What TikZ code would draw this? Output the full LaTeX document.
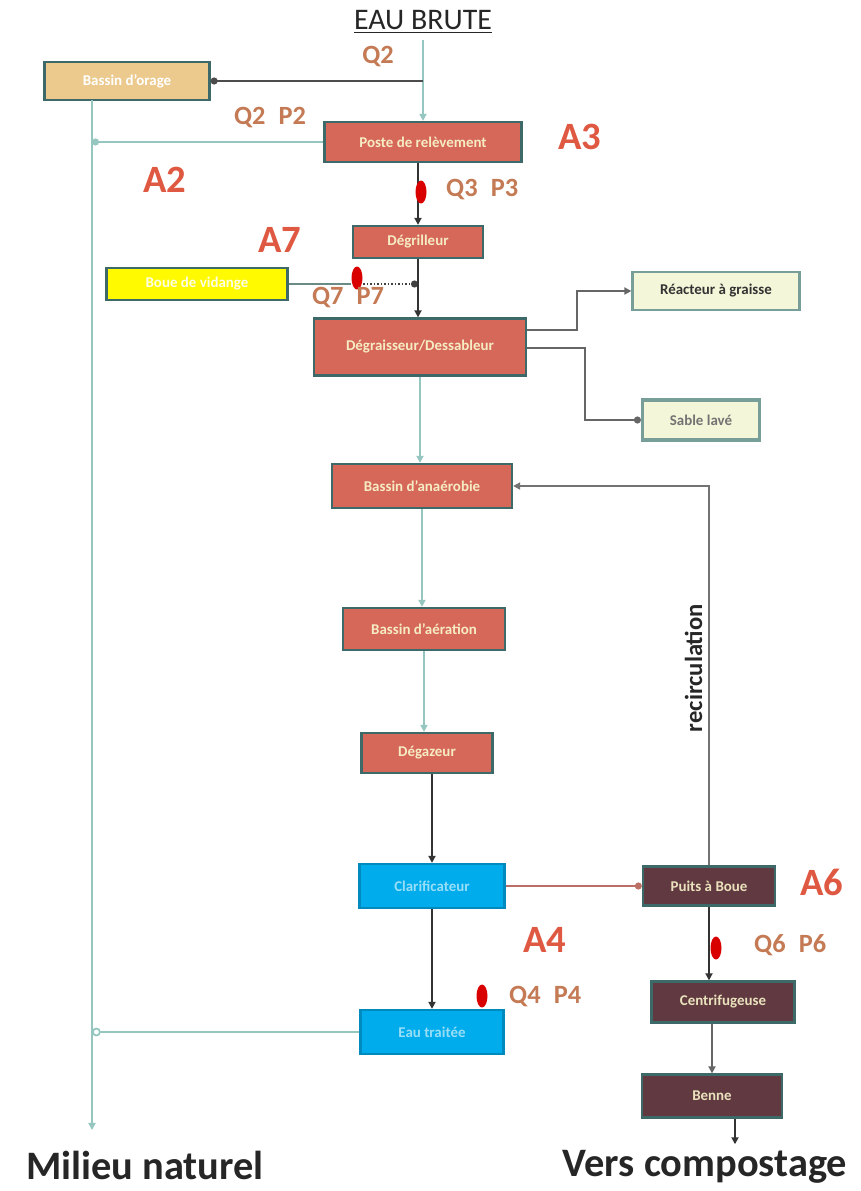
\documentclass[tikz,border=0pt]{standalone}
\usepackage{fontspec}
\setmainfont{Carlito}
\usetikzlibrary{arrows.meta,positioning,calc,shapes.geometric}
\usepackage{xcolor}
\definecolor{stepcolor}{RGB}{214,104,90}
\definecolor{bordercolor}{RGB}{62,105,105}
\definecolor{stormcolor}{RGB}{236,202,142}
\definecolor{sludgecolor}{RGB}{255,250,0}
\definecolor{clearcolor}{RGB}{0,172,236}
\definecolor{boueccolor}{RGB}{96,58,64}
\definecolor{palecolor}{RGB}{243,246,216}
\definecolor{linecolor}{RGB}{150,198,192}
\definecolor{qpcolor}{RGB}{196,122,84}
\definecolor{zonecolor}{RGB}{222,88,66}
\definecolor{creamcolor}{RGB}{246,236,196}

\begin{document}
\begin{tikzpicture}[
    x=0.02cm, y=-0.02cm,
    every node/.style={font=\fontsize{8.5}{9}\selectfont\bfseries},
    stepnode/.style={rectangle, draw=bordercolor, line width=1.3pt, fill=stepcolor, text=creamcolor, inner sep=1pt},
    stormnode/.style={stepnode, fill=stormcolor, text=white},
    sludgenode/.style={stepnode, fill=sludgecolor, text=white!90!yellow},
    clearnode/.style={stepnode, draw=clearcolor!80!black, fill=clearcolor, text=clearcolor!40!white},
    bouenode/.style={stepnode, fill=boueccolor, text=creamcolor!90!gray},
    outnode/.style={stepnode, line width=1.8pt, draw=linecolor!80!black, fill=palecolor, text=black!80},
    probe/.style={ellipse, fill=red!85!black, draw=none, minimum width=0.22cm, minimum height=0.46cm, inner sep=0pt},
    qplabel/.style={font=\fontsize{15}{16}\selectfont\bfseries, text=qpcolor},
    zonelabel/.style={font=\fontsize{22}{24}\selectfont\bfseries, text=zonecolor},
    endlabel/.style={font=\fontsize{23}{25}\selectfont\bfseries, text=black!85},
    arrow/.style={-{Triangle[length=4pt,width=4pt]}, line width=1pt, linecolor},
    dotarrow/.style={-{Circle[length=4pt]}, line width=1pt, linecolor},
    darkarrow/.style={-{Triangle[length=4pt,width=4pt]}, line width=1.3pt, black!80}
]

\useasboundingbox (0,0) rectangle (861,1191);

% Entry
\node[font=\fontsize{17}{18}\selectfont, text=black!85] (brute) at (423,22) {\underline{EAU BRUTE}};

% Treatment line
\node[stormnode, minimum width=3.3cm, minimum height=0.76cm] (orage) at (127,81) {Bassin d'orage};
\node[stepnode, minimum width=3.94cm, minimum height=0.8cm] (poste) at (423,142) {Poste de relèvement};
\node[stepnode, minimum width=2.6cm, minimum height=0.64cm] (degrilleur) at (418,242) {Dégrilleur};
\node[sludgenode, minimum width=3.62cm, minimum height=0.64cm] (vidange) at (197,284) {Boue de vidange};
\node[stepnode, minimum width=4.24cm, minimum height=1.14cm] (degraisseur) at (420,347) {Dégraisseur/Dessableur};
\node[outnode, line width=1.3pt, minimum width=3.34cm, minimum height=0.76cm] (reacteur) at (716,291) {Réacteur à graisse};
\node[outnode, minimum width=2.34cm, minimum height=0.8cm, text=black!55] (sable) at (701,420) {Sable lavé};
\node[stepnode, minimum width=3.6cm, minimum height=0.88cm] (anaerobie) at (422,486) {Bassin d'anaérobie};
\node[stepnode, minimum width=3.24cm, minimum height=0.84cm] (aeration) at (424,629) {Bassin d'aération};
\node[stepnode, minimum width=2.62cm, minimum height=0.8cm] (degazeur) at (427,753) {Dégazeur};
\node[clearnode, minimum width=2.9cm, minimum height=0.88cm] (clarif) at (432,886) {Clarificateur};
\node[clearnode, minimum width=2.86cm, minimum height=0.88cm] (eautraitee) at (432,1032) {Eau traitée};

% Sludge line
\node[bouenode, minimum width=2.64cm, minimum height=0.78cm] (puits) at (709,886) {Puits à Boue};
\node[bouenode, minimum width=2.86cm, minimum height=0.82cm] (centri) at (723,1002) {Centrifugeuse};
\node[bouenode, minimum width=2.8cm, minimum height=0.86cm] (benne) at (712,1096) {Benne};

% Outlets
\node[endlabel] (milieu) at (145,1165) {Milieu naturel};
\node[endlabel] (compost) at (705,1167) {Vers compostage};
\coordinate (leftbus) at (92,100);
\coordinate (leftend) at (92,1130);

% Connectors
\draw[arrow] (brute.south -| poste.north) -- (poste.north);
\draw[dotarrow, black!70] (brute.south |- orage.east) -- (orage.east);
\draw[arrow] (leftbus) -- (leftend);
\draw[dotarrow] (poste.west) -- (poste.west -| leftbus);
\draw[darkarrow] (poste.south -| degrilleur.north) -- (degrilleur.north);
\draw[line width=0.8pt, linecolor!70!black] (vidange.east) -- (351,284);
\draw[densely dotted, line width=1pt, black!75, -{Circle[length=4pt]}] (363,284) -- (vidange.east -| degrilleur.south);
\draw[darkarrow] (degrilleur.south) -- (degrilleur.south |- degraisseur.north);
\draw[arrow, black!60] ([yshift=0.34cm]degraisseur.east) -- ++(1cm,0) |- (reacteur.west);
\draw[dotarrow, black!60] ([yshift=-0.02cm]degraisseur.east) -- ++(1.16cm,0) |- (sable.west);
\draw[arrow] (degraisseur.south) -- (degraisseur.south |- anaerobie.north);
\draw[arrow] (anaerobie.south) -- (anaerobie.south |- aeration.north);
\draw[arrow] (aeration.south) -- (aeration.south |- degazeur.north);
\draw[darkarrow] (degazeur.south -| clarif.north) -- (clarif.north);
\draw[darkarrow] (clarif.south) -- (eautraitee.north);
\draw[{Circle[open,length=5pt]}-, line width=1pt, linecolor] (eautraitee.west -| leftbus) -- (eautraitee.west);
\draw[-{Circle[length=4pt]}, line width=1pt, stepcolor!70!gray] (clarif.east) -- (puits.west);
\draw[arrow, black!55] (puits.north) |- node[pos=0.26, above, sloped, font=\fontsize{14}{15}\selectfont\bfseries, text=black!85] {recirculation} (anaerobie.east);
\draw[darkarrow] (puits.south) -- (puits.south |- centri.north);
\draw[arrow, black!60] (centri.south -| benne.north) -- (benne.north);
\draw[darkarrow] ([xshift=0.46cm]benne.south) -- ([xshift=0.46cm]benne.south |- compost.north);

% Measuring points
\node[probe] (p3) at (421,192) {};
\node[probe] (p7) at (357,278) {};
\node[probe] (p4) at (482,996) {};
\node[probe] (p6) at (716,948) {};

% Labels
\node[qplabel] (q2) at (378,57) {Q2};
\node[qplabel] (q2p2) at (270,118) {Q2\enspace P2};
\node[qplabel, anchor=west] (q3p3) at (440,190) {Q3\enspace P3};
\node[qplabel] (q7p7) at (348,298) {Q7\enspace P7};
\node[qplabel, anchor=west] (q4p4) at (503,996) {Q4\enspace P4};
\node[qplabel, anchor=west] (q6p6) at (748,945) {Q6\enspace P6};
\node[zonelabel] (a3) at (580,137) {A3};
\node[zonelabel] (a2) at (165,180) {A2};
\node[zonelabel] (a7) at (280,240) {A7};
\node[zonelabel] (a4) at (545,940) {A4};
\node[zonelabel] (a6) at (822,882) {A6};

\end{tikzpicture}
\end{document}
